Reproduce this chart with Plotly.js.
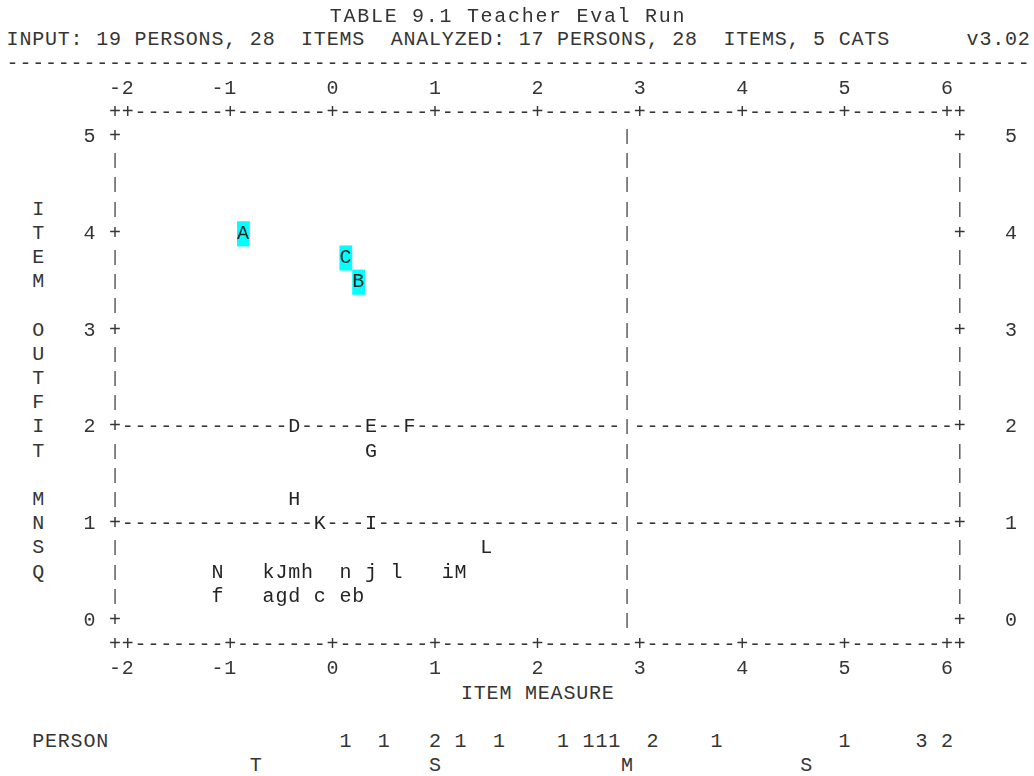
<!DOCTYPE html>
<html>
<head>
<meta charset="utf-8">
<script src="https://cdn.plot.ly/plotly-3.0.1.min.js"></script>
<style>
html,body{margin:0;padding:0;background:#fff;}
#chart{width:1034px;height:776px;}
#chart svg text{letter-spacing:0.8px;}
#chart svg text.gtitle{letter-spacing:1.7px;}
</style>
</head>
<body>
<div id="chart"></div>
<script>
// ---------------- data ----------------
const xTicks = [-2, -1, 0, 1, 2, 3, 4, 5, 6];
const yTicks = [0, 1, 2, 3, 4, 5];
const itemLabels  = ['A','B','C','D','E','F','G','H','I','K','L','N','k','J','m','h','n','j','l','i','M','f','a','g','d','c','e','b'];
const itemMeasure = [-0.875,0.25,0.125,-0.375,0.375,0.75,0.375,-0.375,0.375,-0.125,1.5,-1.125,-0.625,-0.5,-0.375,-0.25,0.125,0.375,0.625,1.125,1.25,-1.125,-0.625,-0.5,-0.375,-0.125,0.125,0.25];
const itemOutfit  = [4.0,3.5,3.75,2.0,2.0,2.0,1.75,1.25,1.0,1.0,0.75,0.5,0.5,0.5,0.5,0.5,0.5,0.5,0.5,0.5,0.5,0.25,0.25,0.25,0.25,0.25,0.25,0.25];
const fitLines = [1, 2];
const personMeasure = [0.125,0.5,1.0,1.25,1.625,2.25,2.5,2.625,2.75,3.125,3.75,5.0,5.75,6.0];
const personCount   = [1,1,2,1,1,1,1,1,1,2,1,1,3,2];
const personStatLabels  = ['T','S','M','S'];
const personStatMeasure = [-0.75, 1.0, 2.875, 4.625];
const personMean = 2.875;
const misfitCut = 2;
const titleText  = 'TABLE 9.1 Teacher Eval Run';
const inputText  = 'INPUT: 19 PERSONS, 28  ITEMS  ANALYZED: 17 PERSONS, 28  ITEMS, 5 CATS';
const versionText = 'v3.02';
const xTitle = 'ITEM MEASURE';
const yTitle = 'ITEM OUTFIT MNSQ';
const personTitle = 'PERSON';

// ---------------- styling / grid ----------------
const FAM = '"Courier New", "Liberation Mono", "DejaVu Sans Mono", monospace';
const INK = '#333';
const SIZE = 20;
const CX = 1/8;   // one character column, in measure units
const RY = 1/4;   // one text row, in MNSQ units
const xMin = xTicks[0], xMax = xTicks[xTicks.length-1];
const yMin = yTicks[0], yMax = yTicks[yTicks.length-1];
const xL = xMin - CX, xR = xMax + CX;
const eq = (a,b) => Math.abs(a-b) < 1e-9;
const isXTick = x => xTicks.some(t => eq(t,x));
const isYTick = y => yTicks.some(t => eq(t,y));
const occ = new Set(itemMeasure.map((m,i) => Math.round(m/CX)+'_'+Math.round(itemOutfit[i]/RY)));
const isOcc = (x,y) => occ.has(Math.round(x/CX)+'_'+Math.round(y/RY));

const glyphs = [];   // + and - characters, labels
const bars = [];     // | characters
function putStr(s, xStart, y, arr) {
  for (let i = 0; i < s.length; i++) if (s[i] !== ' ') arr.push([xStart + i*CX, y, s[i]]);
}

// top & bottom axis lines
const nCols = Math.round((xR - xL)/CX);
[yMax + RY, yMin - RY].forEach(y => {
  for (let k = 0; k <= nCols; k++) {
    const x = xL + k*CX;
    glyphs.push([x, y, (k === 0 || k === nCols || isXTick(x)) ? '+' : '-']);
  }
});
// left & right edges, mean-person line
const nRows = Math.round((yMax - yMin)/RY);
for (let r = 0; r <= nRows; r++) {
  const y = yMin + r*RY;
  [xL, xR].forEach(x => { if (isYTick(y)) glyphs.push([x, y, '+']); else bars.push([x, y, '|']); });
  if (!isOcc(personMean, y)) bars.push([personMean, y, '|']);
}
// fit reference lines
fitLines.forEach(f => {
  const n = Math.round((xMax - xMin)/CX);
  for (let k = 0; k <= n; k++) {
    const x = xMin + k*CX;
    if (eq(x, personMean) || isOcc(x, f)) continue;
    glyphs.push([x, f, '-']);
  }
});
// header rule
putStr('-'.repeat(80), xMin - 9*CX, yMax + 3*RY, glyphs);
// tick labels (right-aligned on the tick column)
xTicks.forEach(v => {
  const s = String(v);
  const x0 = v - (s.length - 1)*CX;
  putStr(s, x0, yMax + 2*RY, glyphs);
  putStr(s, x0, yMin - 2*RY, glyphs);
});
yTicks.forEach(v => {
  const s = String(v);
  putStr(s, xL - 2*CX - (s.length-1)*CX, v, glyphs);
  putStr(s, xR + 4*CX, v, glyphs);
});
// vertical y title, one letter per row
const yTitlePts = [];
for (let i = 0; i < yTitle.length; i++) {
  if (yTitle[i] !== ' ') yTitlePts.push([xL - 6*CX, yMax - 3*RY - i*RY, yTitle[i]]);
}

function textTrace(pts, size, color, name, pos) {
  return {type:'scatter', mode:'text', name: name, opacity:0.99,
    x: pts.map(p => p[0]), y: pts.map(p => p[1]), text: pts.map(p => p[2]),
    textposition: pos || 'middle center', textfont:{family:FAM, size:size, color:color},
    marker:{size:0}, hoverinfo:'skip', showlegend:false, cliponaxis:false};
}

const traces = [
  textTrace(glyphs, SIZE, INK, 'frame'),
  textTrace(bars, 16, '#444', 'bars'),
  textTrace(yTitlePts, SIZE, INK, 'ytitle'),
  // whole header / footer strings
  textTrace([[xMin - 9*CX - CX/2, yMax + 4*RY, inputText]], SIZE, INK, 'input', 'middle right'),
  textTrace([[xMax + 6*CX + CX/2, yMax + 4*RY, versionText]], SIZE, INK, 'version', 'middle left'),
  textTrace([[(xMin + xMax)/2, yMin - 3*RY, xTitle]], SIZE, INK, 'xtitle'),
  textTrace([[xL - 6*CX - CX/2, yMin - 5*RY, personTitle]], SIZE, INK, 'ptitle', 'middle right'),
  {type:'scatter', mode:'text', name:'items', opacity:0.99, x:itemMeasure, y:itemOutfit, text:itemLabels,
   textposition:'middle center', textfont:{family:FAM, size:SIZE, color:'#222'}, marker:{size:0},
   hovertemplate:'%{text}: measure %{x}, outfit %{y}<extra></extra>', showlegend:false, cliponaxis:false},
  {type:'scatter', mode:'text', name:'persons', opacity:0.99, x:personMeasure, y:personMeasure.map(() => yMin - 5*RY),
   text:personCount.map(String), textposition:'middle center', textfont:{family:FAM, size:SIZE, color:INK}, marker:{size:0},
   hoverinfo:'skip', showlegend:false, cliponaxis:false},
  {type:'scatter', mode:'text', name:'personStats', opacity:0.99, x:personStatMeasure, y:personStatMeasure.map(() => yMin - 6*RY),
   text:personStatLabels, textposition:'middle center', textfont:{family:FAM, size:SIZE, color:INK}, marker:{size:0},
   hoverinfo:'skip', showlegend:false, cliponaxis:false}
];

const shapes = [];
itemMeasure.forEach((m, i) => {
  if (itemOutfit[i] > misfitCut) shapes.push({type:'rect', xref:'x', yref:'y', layer:'below',
    x0: m - CX/2, x1: m + CX/2, y0: itemOutfit[i] - RY/2 - 0.005, y1: itemOutfit[i] + RY/2 + 0.005,
    fillcolor:'#00FFFF', line:{width:0}});
});

const layout = {
  width:1034, height:776, autosize:false,
  margin:{l:0, r:0, t:0, b:0, pad:0},
  paper_bgcolor:'#ffffff', plot_bgcolor:'#ffffff',
  title:{text:titleText, font:{family:FAM, size:SIZE, color:INK}, x:508/1034, xanchor:'center', xref:'container',
         y:1 - 15/776, yanchor:'middle', yref:'container'},
  xaxis:{range:[-333/102.4, (1034-333)/102.4], visible:false, fixedrange:true},
  yaxis:{range:[-(776-621)/96.8, 621/96.8], visible:false, fixedrange:true},
  shapes:shapes, showlegend:false, hovermode:'closest'
};

Plotly.newPlot('chart', traces, layout, {displayModeBar:false});
</script>
</body>
</html>
